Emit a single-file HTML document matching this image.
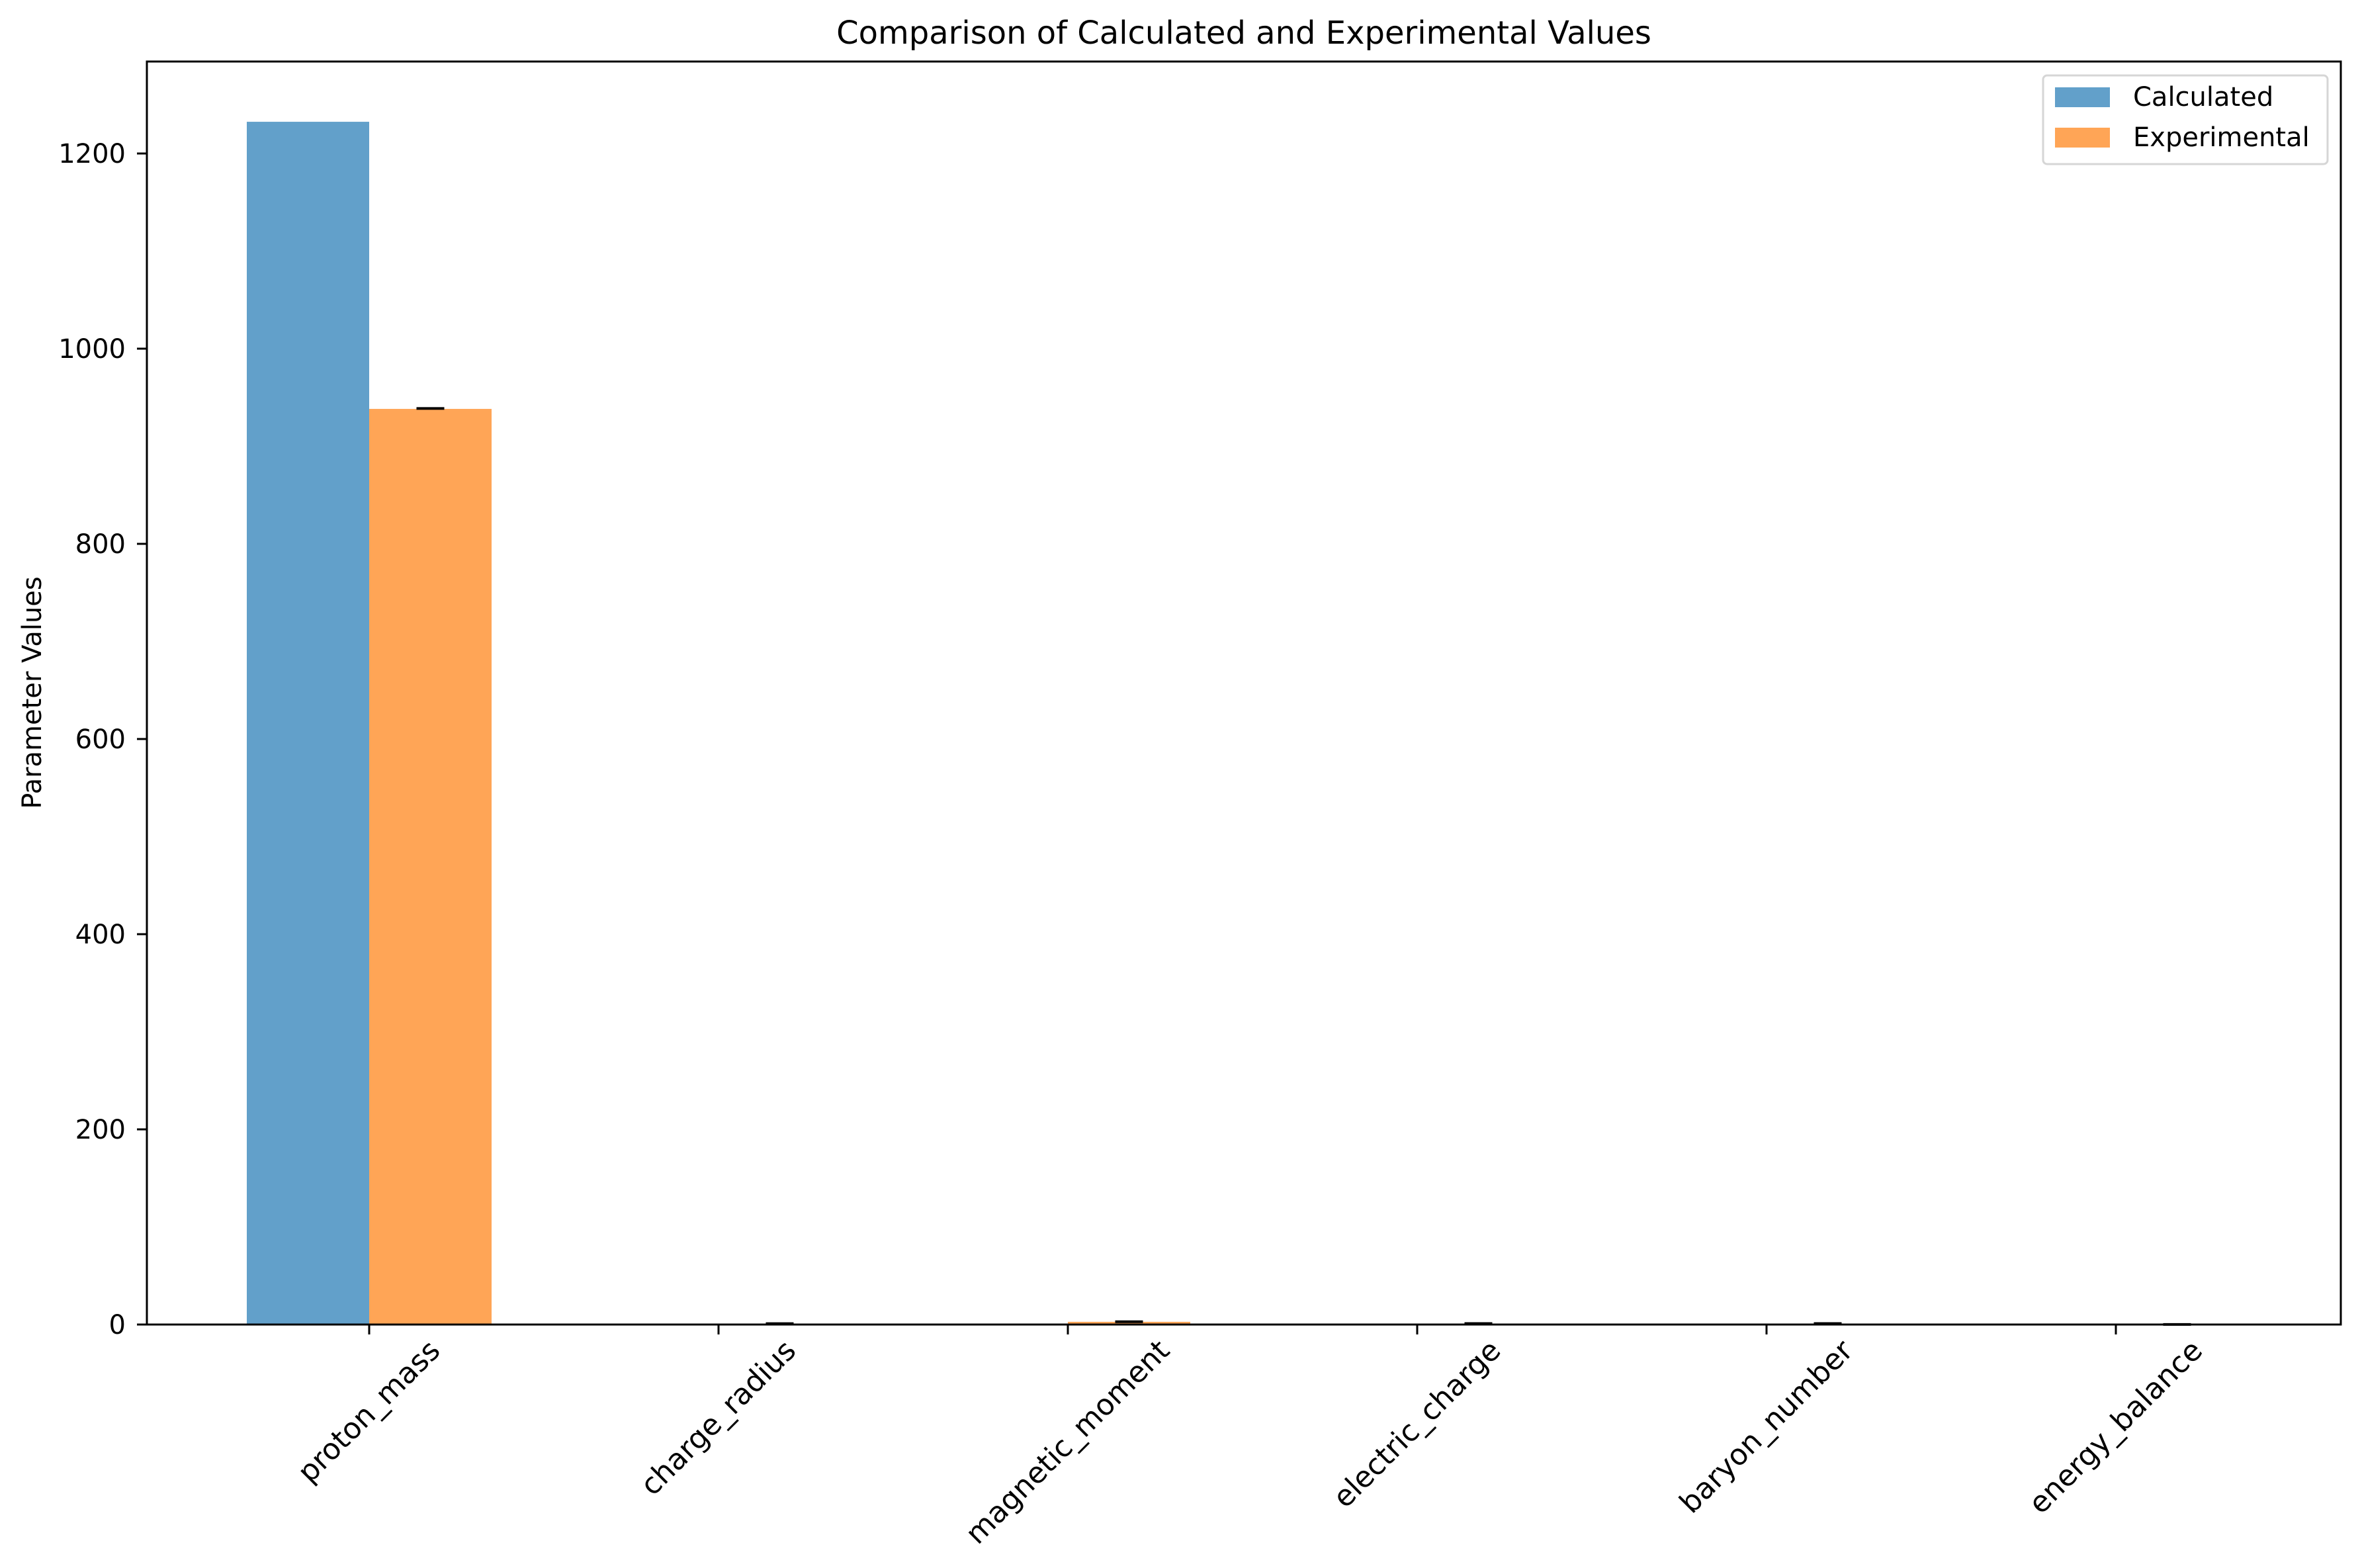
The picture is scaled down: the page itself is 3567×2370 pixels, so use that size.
<!DOCTYPE html>
<html><head><meta charset="utf-8"><style>
html,body{margin:0;padding:0;background:#fff;}
svg{display:block;font-family:"DejaVu Sans","Liberation Sans",sans-serif;}
</style></head><body>
<svg id="chart" width="3567" height="2370" viewBox="0 0 3567 2370" xmlns="http://www.w3.org/2000/svg">
<rect x="0" y="0" width="3567" height="2370" fill="#fff"/>
<text x="1880" y="66" text-anchor="middle" font-size="48">Comparison of Calculated and Experimental Values</text>
<text transform="translate(62,1047) rotate(-90)" text-anchor="middle" font-size="40">Parameter Values</text>
<g id="plot"></g>
<rect x="222" y="93" width="3316" height="1909" fill="none" stroke="#000" stroke-width="3"/>
<g>
<rect x="3088" y="114" width="430" height="134" rx="6" fill="#fff" fill-opacity="0.8" stroke="#d6d6d6" stroke-width="3"/>
<rect x="3106" y="132" width="83" height="30" fill="#1f77b4" fill-opacity="0.7"/>
<text x="3224" y="160" font-size="40">Calculated</text>
<rect x="3106" y="193" width="83" height="30" fill="#ff7f0e" fill-opacity="0.7"/>
<text x="3224" y="221" font-size="40">Experimental</text>
</g>
</svg>
<script>
const categories = ["proton_mass","charge_radius","magnetic_moment","electric_charge","baryon_number","energy_balance"];
const calculated = [1232.5, 0.84, 0.1, 0.5, 0.05, 0.01];
const experimental = [938.27, 0.84, 2.79, 1.0, 1.0, 0.0];
const expErrors = [0.5, 0.05, 0.05, 0.05, 0.05, 0.05];
const yTicks = [0, 200, 400, 600, 800, 1000, 1200];

const NS = "http://www.w3.org/2000/svg";
const plot = document.getElementById('plot');
const x0 = 558, step = 528, barW = 185;
function xPos(i){ return x0 + i*step; }
function yPos(v){ return 2002 - v*(295/200); }
function mk(tag, attrs){ const e = document.createElementNS(NS, tag); for (const k in attrs) e.setAttribute(k, attrs[k]); plot.appendChild(e); return e; }

yTicks.forEach((t) => {
  const y = yPos(t);
  const l = mk('line', {x1:207, x2:222, y1:y, y2:y, stroke:'#000', 'stroke-width':3});
  
  
  const tx = mk('text', {x:190, y:y+14, 'text-anchor':'end', 'font-size':40});
  tx.textContent = t;
  
  
});

categories.forEach((c, i) => {
  const cx = xPos(i);
  const yc = yPos(calculated[i]);
  const b1 = mk('rect', {x:cx-barW, y:Math.min(yc,2002), width:barW, height:Math.max(Math.abs(2002-yc),1), fill:'#1f77b4', 'fill-opacity':0.7});
  
  
  const ye = yPos(experimental[i]);
  const b2 = mk('rect', {x:cx, y:Math.min(ye,2002), width:barW, height:Math.max(Math.abs(2002-ye),1), fill:'#ff7f0e', 'fill-opacity':0.7});
  
  
  const ex = cx + barW/2;
  const e1 = yPos(experimental[i]+expErrors[i]), e2 = yPos(experimental[i]-expErrors[i]);
  const el = mk('line', {x1:ex, x2:ex, y1:e1, y2:e2, stroke:'#000', 'stroke-width':3});
  
  
  const cap = mk('line', {x1:ex-21, x2:ex+21, y1:e1, y2:e1, stroke:'#000', 'stroke-width':4});
  
  
  const tk = mk('line', {x1:cx, x2:cx, y1:2002, y2:2017, stroke:'#000', 'stroke-width':3});
  
  
  const lb = mk('text', {'text-anchor':'end', 'font-size':44});
  lb.textContent = c;
  
  
  const w = lb.getComputedTextLength();
  const shift = w * 0.7071 / 2;
  lb.setAttribute('transform', 'translate(' + (cx + shift + 10) + ',2044) rotate(-45)');
});
</script>
</body></html>
